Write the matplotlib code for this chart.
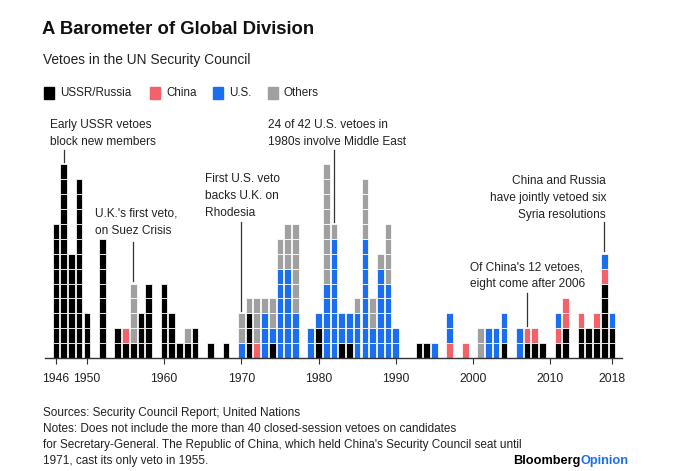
import matplotlib
matplotlib.use("Agg")
import matplotlib.pyplot as plt
from matplotlib import font_manager

# ---------------- data ----------------
years = [1946, 1947, 1948, 1949, 1950, 1952, 1954, 1955, 1956, 1957, 1958,
         1960, 1961, 1962, 1963, 1964, 1966, 1968, 1970, 1971, 1972, 1973,
         1974, 1975, 1976, 1977, 1979, 1980, 1981, 1982, 1983, 1984, 1985,
         1986, 1987, 1988, 1989, 1990, 1993, 1994, 1995, 1997, 1999, 2001,
         2002, 2003, 2004, 2006, 2007, 2008, 2009, 2011, 2012, 2014, 2015,
         2016, 2017, 2018]
ussr = [9, 13, 7, 12, 3, 8, 2, 1, 1, 3, 5,
        5, 3, 1, 1, 2, 1, 1, 0, 3, 0, 0,
        1, 0, 0, 0, 0, 2, 0, 0, 1, 1, 0,
        0, 0, 0, 0, 0, 1, 1, 0, 0, 0, 0,
        0, 0, 1, 0, 1, 1, 1, 1, 2, 2, 2,
        2, 5, 2]
china = [0, 0, 0, 0, 0, 0, 0, 1, 0, 0, 0,
         0, 0, 0, 0, 0, 0, 0, 0, 0, 1, 0,
         0, 0, 0, 0, 0, 0, 0, 0, 0, 0, 0,
         0, 0, 0, 0, 0, 0, 0, 0, 1, 1, 0,
         0, 0, 0, 0, 1, 1, 0, 1, 2, 1, 0,
         1, 1, 0]
us = [0, 0, 0, 0, 0, 0, 0, 0, 0, 0, 0,
      0, 0, 0, 0, 0, 0, 0, 1, 0, 0, 3,
      1, 6, 6, 3, 2, 1, 5, 8, 2, 2, 3,
      8, 2, 6, 5, 2, 0, 0, 1, 2, 0, 0,
      2, 2, 2, 2, 0, 0, 0, 1, 0, 0, 0,
      0, 1, 1]
others = [0, 0, 0, 0, 0, 0, 0, 0, 4, 0, 0,
          0, 0, 0, 1, 0, 0, 0, 2, 1, 3, 1,
          2, 2, 3, 6, 0, 0, 8, 1, 0, 0, 1,
          4, 2, 1, 4, 0, 0, 0, 0, 0, 0, 2,
          0, 0, 0, 0, 0, 0, 0, 0, 0, 0, 0,
          0, 0, 0]
series_names = ["USSR/Russia", "China", "U.S.", "Others"]
tick_years = [1946, 1950, 1960, 1970, 1980, 1990, 2000, 2010, 2018]
tick_labels = ["1946", "1950", "1960", "1970", "1980", "1990", "2000", "2010", "2018"]

colors = ["#000000", "#f4616a", "#1a6ff0", "#a0a0a0"]

# ---------------- fonts ----------------
avail = {f.name for f in font_manager.fontManager.ttflist}
fam = [f for f in ["Liberation Sans Narrow", "Liberation Sans", "DejaVu Sans"] if f in avail]
plt.rcParams["font.family"] = fam

W, H = 700, 471
fig = plt.figure(figsize=(W / 100, H / 100), dpi=100)

def fx(px):
    return px / W

def fy(py):
    return 1 - py / H

# axes: baseline at pixel y=358, unit block height ~14.9 px
base_px = 358
unit_px = 14.9
ymax = 14
ax = fig.add_axes([fx(45), fy(base_px), fx(577), ymax * unit_px / H])
ax.set_xlim(1944.58, 2019.30)
ax.set_ylim(0, ymax)

# build unit blocks
bx, bb, bc = [], [], []
series = [ussr, china, us, others]
totals = []
for i, yr in enumerate(years):
    b = 0
    for s, col in zip(series, colors):
        for _ in range(s[i]):
            bx.append(yr)
            bb.append(b)
            bc.append(col)
            b += 1
    totals.append(b)
ax.bar(bx, [1] * len(bx), bottom=bb, width=0.86, color=bc,
       edgecolor="white", linewidth=0.55, align="center")

for sp in ["top", "right", "left"]:
    ax.spines[sp].set_visible(False)
ax.spines["bottom"].set_color("#333333")
ax.spines["bottom"].set_linewidth(1.0)
ax.set_yticks([])
ax.set_xticks(tick_years)
ax.set_xticklabels(tick_labels, fontsize=8.8, color="#222222")
ax.tick_params(axis="x", length=4, width=0.8, color="#333333", pad=7)

# ---------------- titles & legend ----------------
fig.text(fx(42), fy(30), "A Barometer of Global Division", fontsize=13.3,
         fontweight="bold", va="center", ha="left", color="#111111")
fig.text(fx(43), fy(60), "Vetoes in the UN Security Council", fontsize=9.9,
         va="center", ha="left", color="#222222")

leg_x = [44, 150, 213, 268]
for lx, name, col in zip(leg_x, series_names, colors):
    fig.patches.append(plt.Rectangle((fx(lx), fy(99)), fx(10), 12 / H,
                                     transform=fig.transFigure, color=col))
    fig.text(fx(lx + 16), fy(93), name, fontsize=8.4, va="center",
             ha="left", color="#222222")

# ---------------- annotations ----------------
def py2d(py):
    return (base_px - py) / unit_px

ann_fs = 8.6
def annotate(year, lines, tx, ty, line_top, ha="left"):
    for k, ln in enumerate(lines):
        fig.text(fx(tx), fy(ty + 17 * k), ln, fontsize=ann_fs, va="center",
                 ha=ha, color="#222222")
    tot = totals[years.index(year)]
    ax.plot([year, year], [tot + 0.15, py2d(line_top)], color="#333333",
            lw=0.9, clip_on=False)

annotate(1947, ["Early USSR vetoes", "block new members"], 50, 125, 150)
annotate(1956, ["U.K.'s first veto,", "on Suez Crisis"], 95, 214, 242)
annotate(1970, ["First U.S. veto", "backs U.K. on", "Rhodesia"], 205, 179, 222)
annotate(1982, ["24 of 42 U.S. vetoes in", "1980s involve Middle East"], 268, 125, 150)
annotate(2007, ["Of China's 12 vetoes,", "eight come after 2006"], 470, 267, 293)
annotate(2017, ["China and Russia", "have jointly vetoed six", "Syria resolutions"],
         606, 181, 222, ha="right")

# ---------------- footer ----------------
foot = ["Sources: Security Council Report; United Nations",
        "Notes: Does not include the more than 40 closed-session vetoes on candidates",
        "for Secretary-General. The Republic of China, which held China's Security Council seat until",
        "1971, cast its only veto in 1955."]
for k, ln in enumerate(foot):
    fig.text(fx(43), fy(413 + 16 * k), ln, fontsize=8.5, va="center", ha="left",
             color="#222222")

t1 = fig.text(fx(513), fy(461), "Bloomberg", fontsize=9.2, fontweight="bold",
              va="center", ha="left", color="#000000")
fig.canvas.draw()
bb1 = t1.get_window_extent()
fig.text(bb1.x1 / W, fy(461), "Opinion", fontsize=9.2, fontweight="bold",
         va="center", ha="left", color="#1a6ff0")

fig.savefig("out.png", dpi=100)
